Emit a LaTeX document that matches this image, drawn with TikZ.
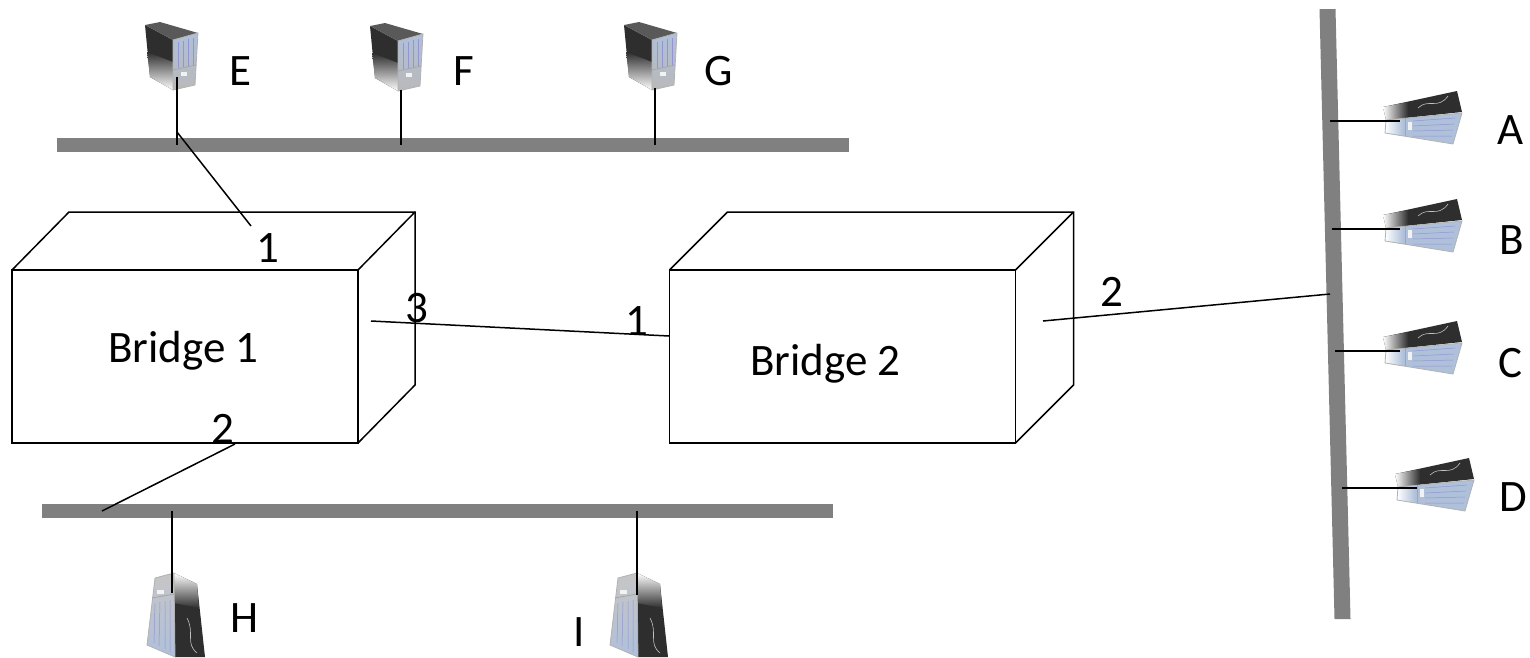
\documentclass[tikz,border=0pt]{standalone}
\usepackage{fontspec}
\setmainfont{Carlito}
\definecolor{busgray}{HTML}{808080}
\definecolor{panelblue}{HTML}{AFC0DA}
\definecolor{bodydark}{HTML}{2E2E2E}
\begin{document}
\begin{tikzpicture}[x=1pt,y=-1pt,
  lbl/.style={font=\fontsize{45}{50}\selectfont, inner sep=0pt},
  wire/.style={draw=black, line width=1.5pt},
  bus/.style={fill=busgray},
  grid/.style={draw=gray!60!blue!60, line width=0.5pt},
  boxface/.style={draw=black, line width=1.5pt, inner sep=0pt, outer sep=0pt, minimum width=346pt, minimum height=173pt},
  towerup/.pic={
    \fill[bodydark] (0,3) -- (28,18) -- (28,68) -- (5,55) -- cycle;
    \shade[top color=bodydark, bottom color=white] (2,30) -- (28,40) -- (28,68) -- (5,55) -- cycle;
    \fill[black!65] (0,3) -- (15,0) -- (53,11) -- (28,18) -- cycle;
    \shade[top color=panelblue, bottom color=gray!55] (28,18) -- (53,11) -- (50,63) -- (28,68) -- cycle;
    \draw[gray!60, line width=0.8pt] (28,18) -- (53,11) -- (50,63) -- (28,68) -- cycle;
    \draw[grid] (33,20) -- (33,46) (38,19) -- (38,45) (43,17) -- (43,44) (48,16) -- (48,43);
    \draw[gray!70, line width=0.8pt] (28,48) -- (51,43);
    \fill[white!90!gray] (36,50) rectangle (42,54);
  },
  towerdown/.pic={
    \fill[bodydark] (27,15) -- (50,26) -- (58,99) -- (28,99) -- cycle;
    \shade[top color=white, bottom color=bodydark] (27,15) -- (50,26) -- (52,50) -- (27,45) -- cycle;
    \shade[top color=gray!45, bottom color=panelblue] (8,20) -- (27,15) -- (28,99) -- (0,87) -- cycle;
    \draw[gray!60, line width=0.8pt] (8,20) -- (27,15) -- (28,99) -- (0,87) -- cycle;
    \draw[grid] (8,45) -- (7,85) (13,44) -- (12,88) (18,43) -- (18,91) (23,42) -- (23,94);
    \draw[gray!70, line width=0.8pt] (5,40) -- (27,36);
    \fill[white!90!gray] (10,32) rectangle (17,36);
    \draw[gray!50, line width=0.6pt] (40,60) .. controls (48,75) and (38,85) .. (50,95);
  },
  towerside/.pic={
    \fill[bodydark] (0,19) -- (74,3) -- (79,24) -- (3,32) -- cycle;
    \shade[left color=white, right color=bodydark] (0,19) -- (25,14) -- (25,30) -- (3,32) -- cycle;
    \fill[panelblue] (3,32) -- (79,25) -- (70,56) -- (2,45) -- cycle;
    \shade[left color=white, right color=panelblue] (3,32) -- (20,31) -- (20,48) -- (2,45) -- cycle;
    \draw[gray!60, line width=0.8pt] (3,32) -- (79,25) -- (70,56) -- (2,45) -- cycle;
    \draw[gray!70, line width=0.8pt] (22,30) -- (22,48);
    \draw[grid] (30,33) -- (72,30) (30,38) -- (71,36) (30,43) -- (70,42) (30,48) -- (69,48);
    \fill[white!90!gray] (25,34) rectangle (29,42);
    \draw[gray!50, line width=0.6pt] (35,20) .. controls (45,10) and (55,22) .. (65,8);
  }
]
\useasboundingbox (0,0) rectangle (1530,657);

% buses
\fill[bus] (57,138) rectangle (849,152);
\fill[bus] (42,504) rectangle (833,518);
\fill[bus] (1319.5,9) -- (1335.5,9) -- (1350.5,619) -- (1334.5,619) -- cycle;

% bridges
\node[boxface] (b1) at (185,356.5) {};
\draw[line width=1.5pt] (b1.north west) -- ++(57,-58) -- ++(346,0) coordinate (b1tr) -- ++(0,173) -- (b1.south east);
\draw[line width=1.5pt] (b1.north east) -- (b1tr);
\node[boxface] (b2) at (842.5,356.5) {};
\draw[line width=1.5pt] (b2.north west) -- ++(58,-58) -- ++(346,0) coordinate (b2tr) -- ++(0,173) -- (b2.south east);
\draw[line width=1.5pt] (b2.north east) -- (b2tr);

\node[lbl, anchor=base west] (t1) at (108,362) {Bridge 1};
\node[lbl, anchor=base west] (t2) at (750,375) {Bridge 2};

% computers
\pic at (145,22) {towerup};
\pic at (370,23) {towerup};
\pic at (624,22) {towerup};
\pic at (147,558) {towerdown};
\pic at (610,558) {towerdown};
\pic at (1383,88) {towerside};
\pic at (1383,196) {towerside};
\pic at (1383,318) {towerside};
\pic at (1395,455) {towerside};

% connection points
\coordinate (e1) at (177,77);  \coordinate (e2) at (177,145);
\coordinate (f1) at (401,90);  \coordinate (f2) at (401,145);
\coordinate (g1) at (655,88);  \coordinate (g2) at (655,145);
\coordinate (h1) at (172,593); \coordinate (h2) at (172,511);
\coordinate (i1) at (637,595); \coordinate (i2) at (637,511);
\coordinate (a1) at (1400,121); \coordinate (a2) at (1330,121);
\coordinate (bb1) at (1400,229); \coordinate (bb2) at (1332,229);
\coordinate (c1) at (1400,351); \coordinate (c2) at (1335,351);
\coordinate (d1) at (1417,488); \coordinate (d2) at (1342,488);
\coordinate (ediag) at (177,132); \coordinate (p11) at (251,226);
\coordinate (p13) at (371,321); \coordinate (p21) at (669,336);
\coordinate (p22) at (1043,321); \coordinate (vb) at (1330,294);
\coordinate (p12) at (235,444); \coordinate (bb) at (102,511);

\draw[wire] (e1) -- (e2);
\draw[wire] (f1) -- (f2);
\draw[wire] (g1) -- (g2);
\draw[wire] (h1) -- (h2);
\draw[wire] (i1) -- (i2);
\draw[wire] (a1) -- (a2);
\draw[wire] (bb1) -- (bb2);
\draw[wire] (c1) -- (c2);
\draw[wire] (d1) -- (d2);
\draw[wire] (ediag) -- (p11);
\draw[wire] (p13) -- (p21);
\draw[wire] (p22) -- (vb);
\draw[wire] (p12) -- (bb);

% labels
\node[lbl, anchor=base west] (le) at (229,85) {E};
\node[lbl, anchor=base west] (lf) at (453,85) {F};
\node[lbl, anchor=base west] (lg) at (704,85) {G};
\node[lbl, anchor=base west] (la) at (1497,144) {A};
\node[lbl, anchor=base west] (lb) at (1499,254) {B};
\node[lbl, anchor=base west] (lc) at (1498,377) {C};
\node[lbl, anchor=base west] (ld) at (1499,511) {D};
\node[lbl, anchor=base west] (lh) at (230,632) {H};
\node[lbl, anchor=base west] (li) at (573,646) {I};

\node[lbl, anchor=base] (n1) at (268,262) {1};
\node[lbl, anchor=base] (n2) at (223,443) {2};
\node[lbl, anchor=base] (n3) at (417,322) {3};
\node[lbl, anchor=base] (n4) at (637,335) {1};
\node[lbl, anchor=base] (n5) at (1112,306) {2};
\end{tikzpicture}
\end{document}
